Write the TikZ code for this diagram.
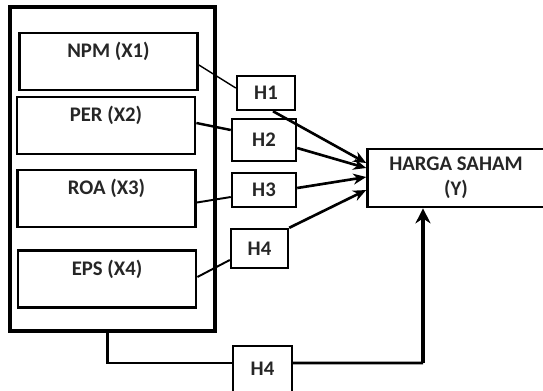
\documentclass[tikz,border=0pt]{standalone}
\usepackage{fontspec}
\setmainfont{Carlito}
\usepackage{tikz}
\usetikzlibrary{arrows.meta,positioning,calc}

\begin{document}
\begin{tikzpicture}[
    x=0.02cm, y=-0.02cm,
    font=\fontsize{11.8}{14.5}\selectfont\bfseries,
    outerbox/.style={draw=black, line width=2.8pt, minimum width=4.1cm, minimum height=6.48cm},
    xbox/.style={draw=black, line width=1.6pt, minimum width=3.56cm, minimum height=1.14cm},
    xtext/.style={anchor=center, yshift=-0.4cm, text=black!85},
    hbox/.style={draw=black, line width=1.4pt, align=center, inner sep=0pt, text=black!85},
    ybox/.style={draw=black, line width=1.5pt, minimum width=3.54cm, minimum height=1.16cm, align=center, text=black!85},
    lnk/.style={draw=black, line width=1.1pt},
    arr/.style={-{Stealth[length=2.6mm, width=2.2mm]}, line width=1.5pt, draw=black},
    uparr/.style={-{Stealth[length=3mm, width=3mm]}, line width=2.6pt, draw=black}
]
  \useasboundingbox (0,0) rectangle (543,390);

  \node[outerbox] (Xgroup) at (112.5,169) {};
  \node[xbox, label={[xtext]north:NPM (X1)}] (NPMbox) at (108.5,61.5) {};
  \node[xbox, label={[xtext]north:PER (X2)}] (PERbox) at (106,125.5) {};
  \node[xbox, label={[xtext]north:ROA (X3)}] (ROAbox) at (106.5,198.5) {};
  \node[xbox, label={[xtext]north:EPS (X4)}] (EPSbox) at (107,279) {};

  \node[hbox, minimum width=1.16cm, minimum height=0.68cm] (Hbox1) at (266,93) {H1};
  \node[hbox, minimum width=1.28cm, minimum height=0.84cm] (Hbox2) at (264,140) {H2};
  \node[hbox, minimum width=1.28cm, minimum height=0.68cm] (Hbox3) at (264,190) {H3};
  \node[hbox, minimum width=1.14cm, minimum height=0.78cm] (Hbox4) at (259.5,248.5) {H4};
  \node[hbox, minimum width=1.18cm, minimum height=0.92cm] (Hbox5) at (262.5,369) {H4};

  \node[ybox] (Ybox) at (456,178) {HARGA SAHAM\\(Y)};

  \draw[lnk, line width=0.8pt] ([yshift=-0.07cm]NPMbox.east) -- ([yshift=0.1cm]Hbox1.west);
  \draw[lnk, line width=1.4pt] ([yshift=0.05cm]PERbox.east) -- ([yshift=0.2cm]Hbox2.west);
  \draw[lnk] ([yshift=-0.08cm]ROAbox.east) -- ([yshift=-0.14cm]Hbox3.west);
  \draw[lnk] ([yshift=0.04cm]EPSbox.east) -- ([yshift=-0.23cm]Hbox4.west);

  \draw[arr] ([xshift=0.14cm]Hbox1.south) -- ([yshift=0.3cm]Ybox.west);
  \draw[arr] ([yshift=-0.16cm]Hbox2.east) -- ([yshift=0.2cm]Ybox.west);
  \draw[arr] ([yshift=0.04cm]Hbox3.east) -- ([yshift=0.02cm]Ybox.west);
  \draw[arr] (Hbox4.north east) -- ([yshift=-0.24cm]Ybox.west);

  \coordinate (turn) at (423,363);
  \draw[lnk, line width=1.6pt] ([xshift=-0.1cm]Xgroup.south) |- ([yshift=0.12cm]Hbox5.west);
  \draw[lnk, line width=1.6pt] ([yshift=0.12cm]Hbox5.east) -- (turn);
  \draw[uparr] (turn) -- (turn |- Ybox.south);
\end{tikzpicture}
\end{document}
